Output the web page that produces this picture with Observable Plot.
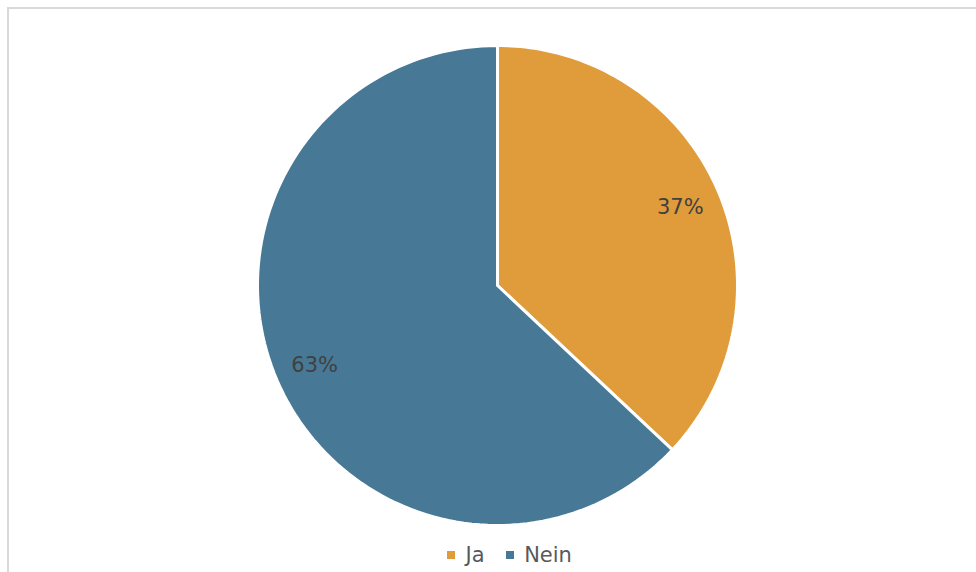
<!DOCTYPE html>
<html>
<head>
<meta charset="utf-8">
<script src="https://cdn.jsdelivr.net/npm/d3@7"></script>
<script src="https://cdn.jsdelivr.net/npm/@observablehq/plot@0.6"></script>
<style>
  html, body { margin: 0; padding: 0; background: #fff; }
  body { width: 976px; height: 572px; overflow: hidden; position: relative; font-family: "DejaVu Sans", sans-serif; }
  #frame { position: absolute; left: 7px; top: 7px; width: 1000px; height: 600px; border-left: 2px solid #d9d9d9; border-top: 2px solid #d9d9d9; box-sizing: border-box; }
  #chart { position: absolute; left: 0; top: 0; }
  #legend { position: absolute; left: 0; top: 538px; width: 976px; }
</style>
</head>
<body>
<div id="frame"></div>
<div id="chart"></div>
<div id="legend"></div>
<script>
const categories = ["Ja", "Nein"];
const values = [37, 63];
const labels = ["37%", "63%"];
const colors = ["#E09C3B", "#477996"];

const arcs = d3.pie().sort(null).value(d => d)(values);
const slices = [];
const labelPts = [];
arcs.forEach((a, i) => {
  const key = categories[i];
  slices.push({key, x: 0, y: 0});
  const n = 120;
  for (let k = 0; k <= n; k++) {
    const t = a.startAngle + (a.endAngle - a.startAngle) * k / n;
    slices.push({key, x: Math.sin(t), y: Math.cos(t)});
  }
  slices.push({key, x: 0, y: 0});
  const m = (a.startAngle + a.endAngle) / 2;
  const r = 0.83;
  labelPts.push({key, label: labels[i], x: r * Math.sin(m), y: r * Math.cos(m)});
});

const chart = Plot.plot({
  width: 976,
  height: 540,
  margin: 0,
  x: {domain: [-1, 1], range: [257, 737], axis: null},
  y: {domain: [-1, 1], range: [525, 45], axis: null},
  color: {domain: categories, range: colors},
  style: {background: "transparent", fontFamily: "DejaVu Sans, sans-serif"},
  marks: [
    Plot.line(slices, {x: "x", y: "y", z: "key", fill: "key", stroke: "white", strokeWidth: 3, strokeLinejoin: "miter", curve: "linear"}),
    Plot.text(labelPts, {x: "x", y: "y", text: "label", fill: "#404040", fontSize: 21, dy: 1})
  ]
});
document.getElementById("chart").appendChild(chart);

const legend = Plot.legend({
  color: {domain: categories, range: colors},
  legend: "swatches",
  swatchSize: 8,
  swatchWidth: 8,
  swatchHeight: 8,
  style: {fontSize: "21px", color: "#595959", fontFamily: "DejaVu Sans, sans-serif"}
});
legend.style.display = "flex";
legend.style.justifyContent = "center";
legend.style.paddingLeft = "64px";
document.getElementById("legend").appendChild(legend);
</script>
</body>
</html>
